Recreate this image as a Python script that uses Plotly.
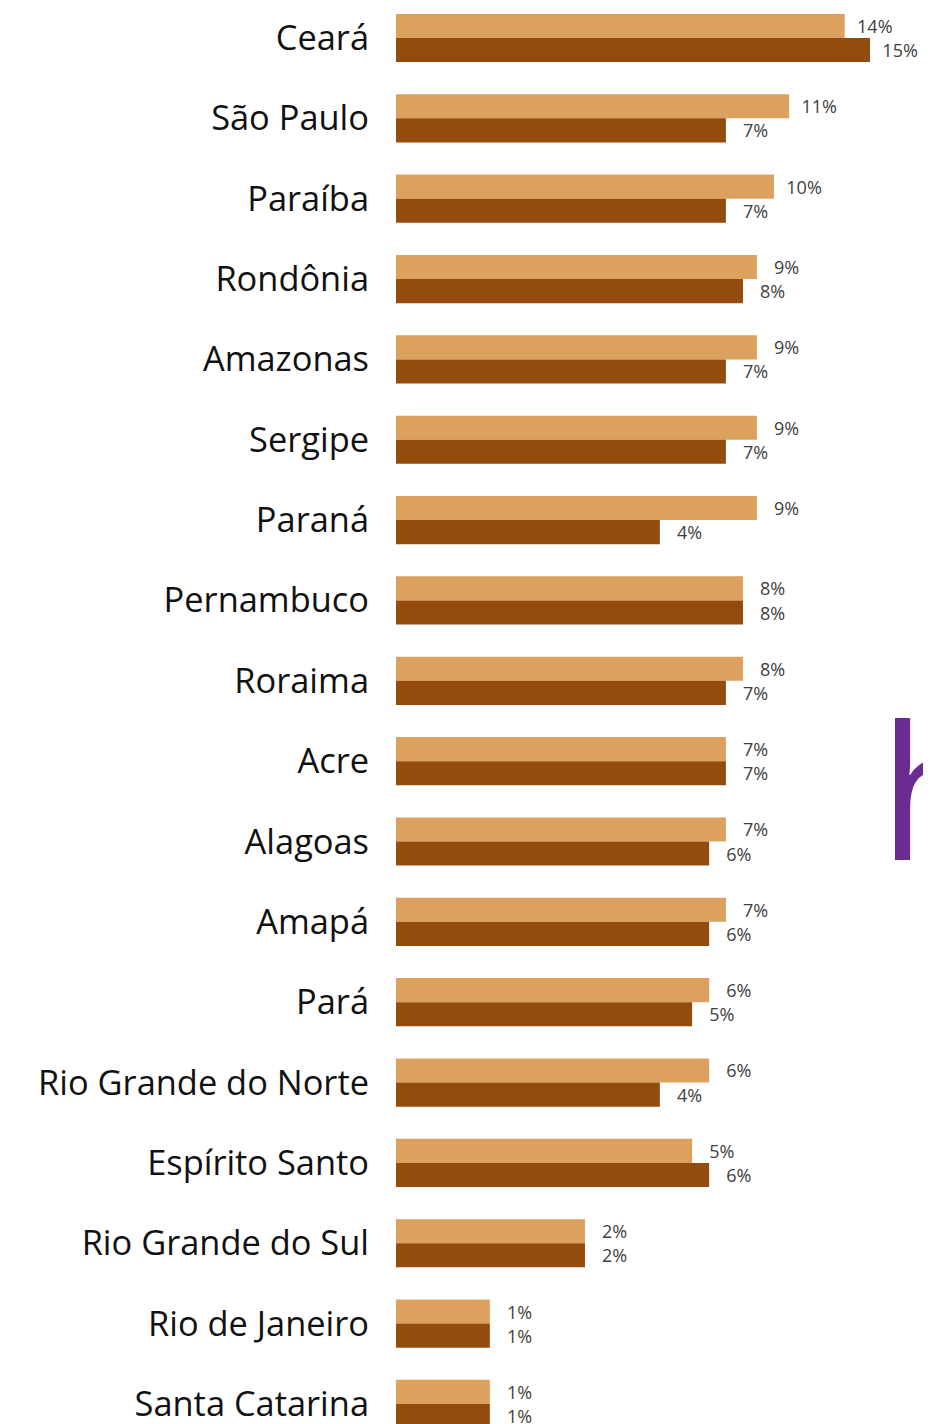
import plotly.graph_objects as go

# Categories (top to bottom)
states = ["Ceará", "São Paulo", "Paraíba", "Rondônia", "Amazonas", "Sergipe",
          "Paraná", "Pernambuco", "Roraima", "Acre", "Alagoas", "Amapá", "Pará",
          "Rio Grande do Norte", "Espírito Santo", "Rio Grande do Sul",
          "Rio de Janeiro", "Santa Catarina"]

# Displayed percentages (data labels)
pct_light = [14, 11, 10, 9, 9, 9, 9, 8, 8, 7, 7, 7, 6, 6, 5, 2, 1, 1]
pct_dark = [15, 7, 7, 8, 7, 7, 4, 8, 7, 7, 6, 6, 5, 4, 6, 2, 1, 1]

# Bar lengths as drawn in the picture (relative units, longest bar = 15)
len_light = [14.2, 12.44, 11.96, 11.42, 11.42, 11.42, 11.42, 10.98, 10.98,
             10.44, 10.44, 10.44, 9.91, 9.91, 9.37, 5.98, 2.97, 2.97]
len_dark = [15.0, 10.44, 10.44, 10.98, 10.44, 10.44, 8.35, 10.98, 10.44,
            10.44, 9.91, 9.91, 9.37, 8.35, 9.91, 5.98, 2.97, 2.97]

LIGHT = "#DCA15E"
DARK = "#944B0E"
LABEL = "#404040"
FONT = "Open Sans"

idx = list(range(len(states)))


def label(v):
    # labels are centred a fixed distance past the bar end
    pad = "\u00a0" * (3 if v < 10 else 2)
    return f"{pad}{v}%"


fig = go.Figure()
fig.add_trace(go.Bar(
    y=idx, x=len_light, orientation="h", offset=-0.3, width=0.3,
    marker=dict(color=LIGHT, line=dict(width=0)),
    text=[label(v) for v in pct_light], textposition="outside",
    textfont=dict(family=FONT, size=18, color=LABEL), constraintext="none",
    cliponaxis=False, showlegend=False, hoverinfo="skip"))
fig.add_trace(go.Bar(
    y=idx, x=len_dark, orientation="h", offset=0.0, width=0.3,
    marker=dict(color=DARK, line=dict(width=0)),
    text=[label(v) for v in pct_dark], textposition="outside",
    textfont=dict(family=FONT, size=18, color=LABEL), constraintext="none",
    cliponaxis=False, showlegend=False, hoverinfo="skip"))

W, H = 931, 1424
OFF = 8          # page body margin
L = 396 - OFF
ROW = 80.35      # pixels per category
top_v = -(38 - OFF) / ROW
bot_v = top_v + H / ROW

fig.update_layout(
    width=W, height=H, barmode="overlay",
    margin=dict(l=L, r=0, t=0, b=0),
    paper_bgcolor="white", plot_bgcolor="white",
    font=dict(family=FONT),
    xaxis=dict(range=[0, (W - L) / 31.6], visible=False, fixedrange=True),
    yaxis=dict(range=[bot_v, top_v], tickmode="array", tickvals=idx,
               ticktext=states, ticks="", showgrid=False, zeroline=False,
               showline=False, ticklabelstandoff=26,
               tickfont=dict(family=FONT, size=34.4, color="#111111"),
               automargin=False, fixedrange=True),
)

# Partial purple logo letter at the right edge
fig.add_annotation(text="h", xref="paper", yref="paper",
                   x=(877 - OFF - L) / (W - L), y=1 - (658 - OFF) / H,
                   xanchor="left", yanchor="top", showarrow=False,
                   font=dict(family=FONT, size=187, color="#6B2C91"))

fig.write_html("out.html")
